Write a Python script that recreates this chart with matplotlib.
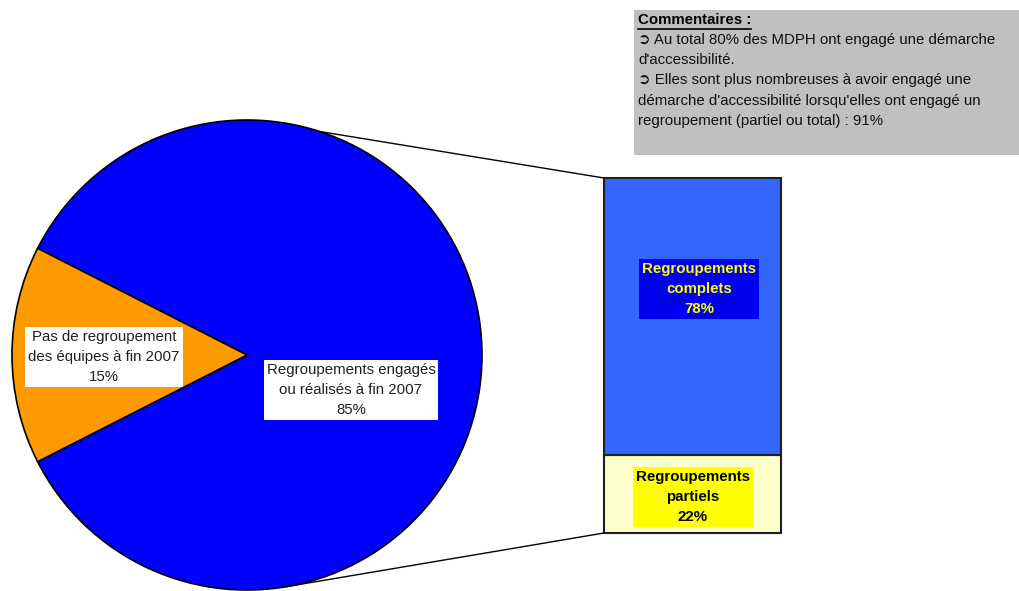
import numpy as np
import matplotlib as mpl
mpl.use('Agg')
import matplotlib.pyplot as plt

# pie data
pie_labels = ['Regroupements engagés\nou réalisés à fin 2007', 'Pas de regroupement\ndes équipes à fin 2007']
pie_values = [85, 15]
pie_colors = ['#0000FF', '#FF9900']

# bar (detail of the 85%)
bar_labels = ['Regroupements\npartiels', 'Regroupements\ncomplets']
bar_values = [22, 78]
bar_colors = ['#FFFFCC', '#3366FF']

comment_title = 'Commentaires :'
comment_lines = [
    '\u27b2 Au total 80% des MDPH ont engagé une démarche',
    "d'accessibilité.",
    '\u27b2 Elles sont plus nombreuses à avoir engagé une',
    "démarche d'accessibilité lorsqu'elles ont engagé un",
    'regroupement (partiel ou total) : 91%',
]

plt.rcParams['font.family'] = ['Liberation Sans', 'DejaVu Sans']
FS = 10.8
LS = 1.52

W, H = 1019, 591
fig = plt.figure(figsize=(W / 100, H / 100), dpi=100)
ax = fig.add_axes([0, 0, 1, 1])

def Y(y):
    return H - y

# ---- pie ----
cx, cy, r = 247, Y(355), 235
wedges, _ = ax.pie(pie_values, colors=pie_colors, startangle=207, center=(cx, cy),
                   radius=r, wedgeprops=dict(edgecolor='black', linewidth=1.2))
ax.set_xlim(0, W)
ax.set_ylim(0, H)
ax.set_aspect('equal')
ax.axis('off')

ax.text(351, Y(390), pie_labels[0] + '\n%d%%' % pie_values[0], ha='center', va='center',
        fontsize=FS, color='#202020', linespacing=LS,
        bbox=dict(boxstyle='square,pad=0.2', fc='white', ec='none'))
ax.text(104, Y(357), pie_labels[1] + '\n%d%%' % pie_values[1], ha='center', va='center',
        fontsize=FS, color='#202020', linespacing=LS,
        bbox=dict(boxstyle='square,pad=0.2', fc='white', ec='none'))

# ---- stacked bar ----
bx0, bx1 = 604, 781
btop, bbot = 178, 533
bh = bbot - btop
total = sum(bar_values)
bottom = Y(bbot)
for val, col in zip(bar_values, bar_colors):
    h = bh * val / total
    ax.bar(bx0, h, width=bx1 - bx0, bottom=bottom, align='edge', color=col,
           edgecolor='#202020', linewidth=1.5)
    bottom += h

ax.text(693, Y(497), bar_labels[0] + '\n%d%%' % bar_values[0], ha='center', va='center',
        fontsize=FS, fontweight='bold', color='black', linespacing=LS,
        bbox=dict(boxstyle='square,pad=0.2', fc='#FFFF00', ec='none'))
ax.text(699, Y(289), bar_labels[1] + '\n%d%%' % bar_values[1], ha='center', va='center',
        fontsize=FS, fontweight='bold', color='#FFFF00', linespacing=LS,
        bbox=dict(boxstyle='square,pad=0.2', fc='#0000F0', ec='none'))

# connector lines
a_top = np.deg2rad(72)
a_bot = np.deg2rad(-80)
ax.plot([cx + r * np.cos(a_top), bx0], [cy + r * np.sin(a_top), Y(btop)], color='black', lw=1)
ax.plot([cx + r * np.cos(a_bot), bx0], [cy + r * np.sin(a_bot), Y(bbot)], color='black', lw=1)

# ---- comment box ----
ax.add_patch(plt.Rectangle((634, Y(155)), W - 634, 145, fc='#C0C0C0', ec='none'))
t = ax.text(638, Y(20), comment_title, fontsize=FS, fontweight='bold', va='center', ha='left')
fig.canvas.draw()
bb = t.get_window_extent().transformed(ax.transData.inverted())
ax.plot([bb.x0, bb.x1], [Y(28.5), Y(28.5)], color='black', lw=1.2)
for i, line in enumerate(comment_lines):
    ax.text(638, Y(40 + 20.2 * i), line, fontsize=FS, va='center', ha='left', color='#101010')

fig.savefig('out.png', dpi=100)
